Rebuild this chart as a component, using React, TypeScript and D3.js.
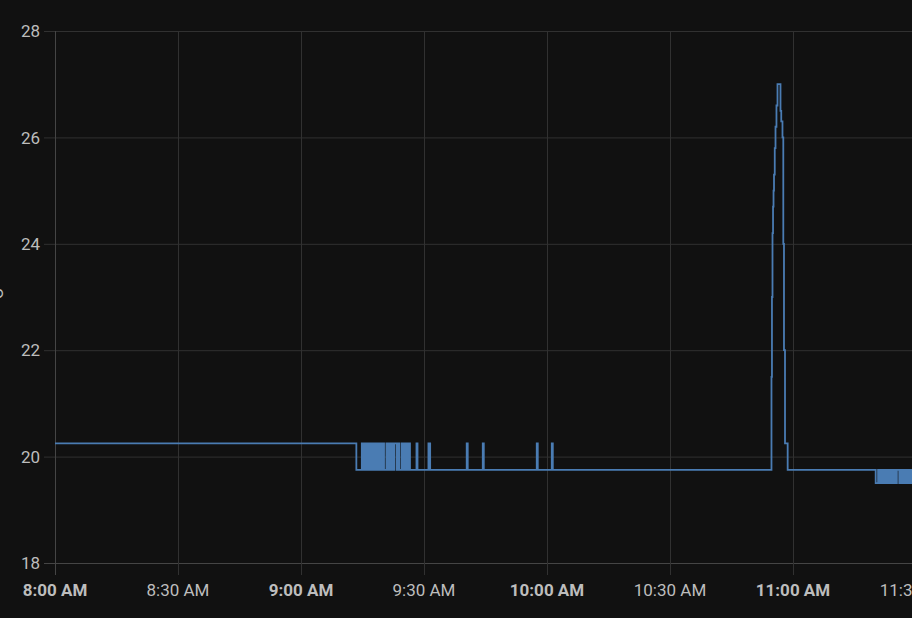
import * as d3 from 'd3';
import { useEffect, useRef } from 'react';

const WIDTH = 912;
const HEIGHT = 618;
const MARGIN = { top: 31, right: -4, bottom: 55, left: 55 };

const X_DOMAIN = ['08:00:00', '11:30:00'];
const Y_DOMAIN = [18, 28];
const Y_TICKS = [18, 20, 22, 24, 26, 28];
const UNIT = '°C';

// flat until the first drop
const steadyReadings: [string, number][] = [
    ['08:00:00', 20.25],
    ['09:13:30', 19.75],
];

// sensor flapping between 20.25 and 19.75
const flickerReadings: [string, number][] = [
    ['09:14:50', 20.25], ['09:15:05', 19.75], ['09:15:25', 20.25], ['09:15:45', 19.75],
    ['09:16:05', 20.25], ['09:16:25', 19.75], ['09:16:45', 20.25], ['09:17:05', 19.75],
    ['09:17:25', 20.25], ['09:17:45', 19.75], ['09:18:05', 20.25], ['09:18:25', 19.75],
    ['09:18:45', 20.25], ['09:19:05', 19.75], ['09:19:25', 20.25], ['09:19:45', 19.75],
    ['09:20:00', 20.25], ['09:20:15', 19.75], ['09:20:50', 20.25], ['09:21:10', 19.75],
    ['09:21:30', 20.25], ['09:21:50', 19.75], ['09:22:10', 20.25], ['09:22:30', 19.75],
    ['09:22:45', 20.25], ['09:23:20', 19.75], ['09:23:40', 20.25], ['09:24:00', 19.75],
    ['09:24:35', 20.25], ['09:24:55', 19.75], ['09:25:15', 20.25], ['09:25:35', 19.75],
    ['09:25:55', 20.25], ['09:26:15', 19.75], ['09:26:25', 20.25], ['09:26:35', 19.75],
];

// short blips back up to 20.25
const blipReadings: [string, number][] = [
    ['09:28:10', 20.25], ['09:28:25', 19.75],
    ['09:31:05', 20.25], ['09:31:30', 19.75],
    ['09:40:25', 20.25], ['09:40:40', 19.75],
    ['09:44:20', 20.25], ['09:44:35', 19.75],
    ['09:57:30', 20.25], ['09:57:45', 19.75],
    ['10:01:10', 20.25], ['10:01:25', 19.75],
];

const spikeReadings: [string, number][] = [
    ['10:54:45', 21.5], ['10:54:52', 23.0], ['10:55:00', 24.2], ['10:55:08', 24.7],
    ['10:55:15', 25.0], ['10:55:22', 25.3], ['10:55:33', 25.8], ['10:55:44', 26.2],
    ['10:55:58', 26.6], ['10:56:13', 27.0], ['10:56:57', 26.5], ['10:57:08', 26.3],
    ['10:57:26', 26.0], ['10:57:38', 24.0], ['10:57:48', 22.0], ['10:58:03', 20.25],
    ['10:58:42', 19.75],
];

const tailReadings: [string, number][] = [
    ['11:20:10', 19.5], ['11:20:45', 19.75], ['11:21:05', 19.5], ['11:21:25', 19.75],
    ['11:21:45', 19.5], ['11:22:05', 19.75], ['11:22:25', 19.5], ['11:22:45', 19.75],
    ['11:23:05', 19.5], ['11:23:25', 19.75], ['11:23:45', 19.5], ['11:24:05', 19.75],
    ['11:24:25', 19.5], ['11:24:45', 19.75], ['11:25:05', 19.5], ['11:25:20', 19.75],
    ['11:25:55', 19.5], ['11:26:15', 19.75], ['11:26:35', 19.5], ['11:26:55', 19.75],
    ['11:27:15', 19.5], ['11:27:35', 19.75], ['11:27:55', 19.5], ['11:28:15', 19.75],
    ['11:28:35', 19.5], ['11:28:55', 19.75], ['11:29:15', 19.5], ['11:29:35', 19.75],
];

const parseTime = d3.timeParse('%H:%M:%S');
const formatTime = d3.timeFormat('%-I:%M %p');

const FONT = 'Roboto, "Noto Sans", sans-serif';
const LINE_COLOR = '#4a7cb3';

const App = () => {
    const svgRef = useRef<SVGSVGElement>(null);

    useEffect(() => {
        const svg = d3.select(svgRef.current);
        svg.selectAll('*').remove();

        const readings = [...steadyReadings, ...flickerReadings, ...blipReadings, ...spikeReadings, ...tailReadings]
            .map(([t, v]) => ({ time: parseTime(t) as Date, value: v }));

        const xScale = d3.scaleTime()
            .domain([parseTime(X_DOMAIN[0]) as Date, parseTime(X_DOMAIN[1]) as Date])
            .range([MARGIN.left, WIDTH - MARGIN.right]);
        const yScale = d3.scaleLinear()
            .domain(Y_DOMAIN)
            .range([HEIGHT - MARGIN.bottom, MARGIN.top]);

        svg.append('rect')
            .attr('width', WIDTH)
            .attr('height', HEIGHT)
            .attr('fill', '#111111');

        const xTicks = xScale.ticks(d3.timeMinute.every(30) as d3.TimeInterval);
        const bottom = HEIGHT - MARGIN.bottom;

        // grid
        svg.append('g')
            .selectAll('line')
            .data(Y_TICKS)
            .join('line')
            .attr('x1', MARGIN.left - 11)
            .attr('x2', WIDTH)
            .attr('y1', d => yScale(d) + 0.5)
            .attr('y2', d => yScale(d) + 0.5)
            .attr('stroke', d => d === Y_DOMAIN[0] ? '#454545' : '#313131')
            .attr('stroke-width', 1);

        svg.append('g')
            .selectAll('line')
            .data(xTicks)
            .join('line')
            .attr('x1', d => Math.round(xScale(d)) + 0.5)
            .attr('x2', d => Math.round(xScale(d)) + 0.5)
            .attr('y1', MARGIN.top)
            .attr('y2', bottom + 12)
            .attr('stroke', (d, i) => i === 0 ? '#454545' : '#313131')
            .attr('stroke-width', 1);

        // series
        const line = d3.line<{ time: Date; value: number }>()
            .x(d => xScale(d.time))
            .y(d => yScale(d.value))
            .curve(d3.curveStepAfter);

        svg.append('path')
            .datum(readings)
            .attr('d', line)
            .attr('fill', 'none')
            .attr('stroke', LINE_COLOR)
            .attr('stroke-width', 1.8);

        // labels
        svg.append('g')
            .selectAll('text')
            .data(Y_TICKS)
            .join('text')
            .attr('x', 40)
            .attr('y', d => yScale(d))
            .attr('dy', '0.36em')
            .attr('text-anchor', 'end')
            .attr('font-family', FONT)
            .attr('font-size', 17)
            .attr('fill', '#bdbdbd')
            .text(d => d);

        svg.append('g')
            .selectAll('text')
            .data(xTicks)
            .join('text')
            .attr('x', d => xScale(d))
            .attr('y', bottom + 33)
            .attr('text-anchor', 'middle')
            .attr('font-family', FONT)
            .attr('font-size', 17)
            .attr('font-weight', d => d.getMinutes() === 0 ? 700 : 400)
            .attr('fill', '#bdbdbd')
            .text(d => formatTime(d));

        svg.append('text')
            .attr('transform', `translate(3, ${(MARGIN.top + bottom) / 2}) rotate(-90)`)
            .attr('text-anchor', 'middle')
            .attr('font-family', FONT)
            .attr('font-size', 17)
            .attr('fill', '#bdbdbd')
            .text(UNIT);
    }, []);

    return (
        <svg ref={svgRef} width={WIDTH} height={HEIGHT}
            style={{ position: 'absolute', left: 0, top: 0, display: 'block' }} />
    );
};

export default App;
